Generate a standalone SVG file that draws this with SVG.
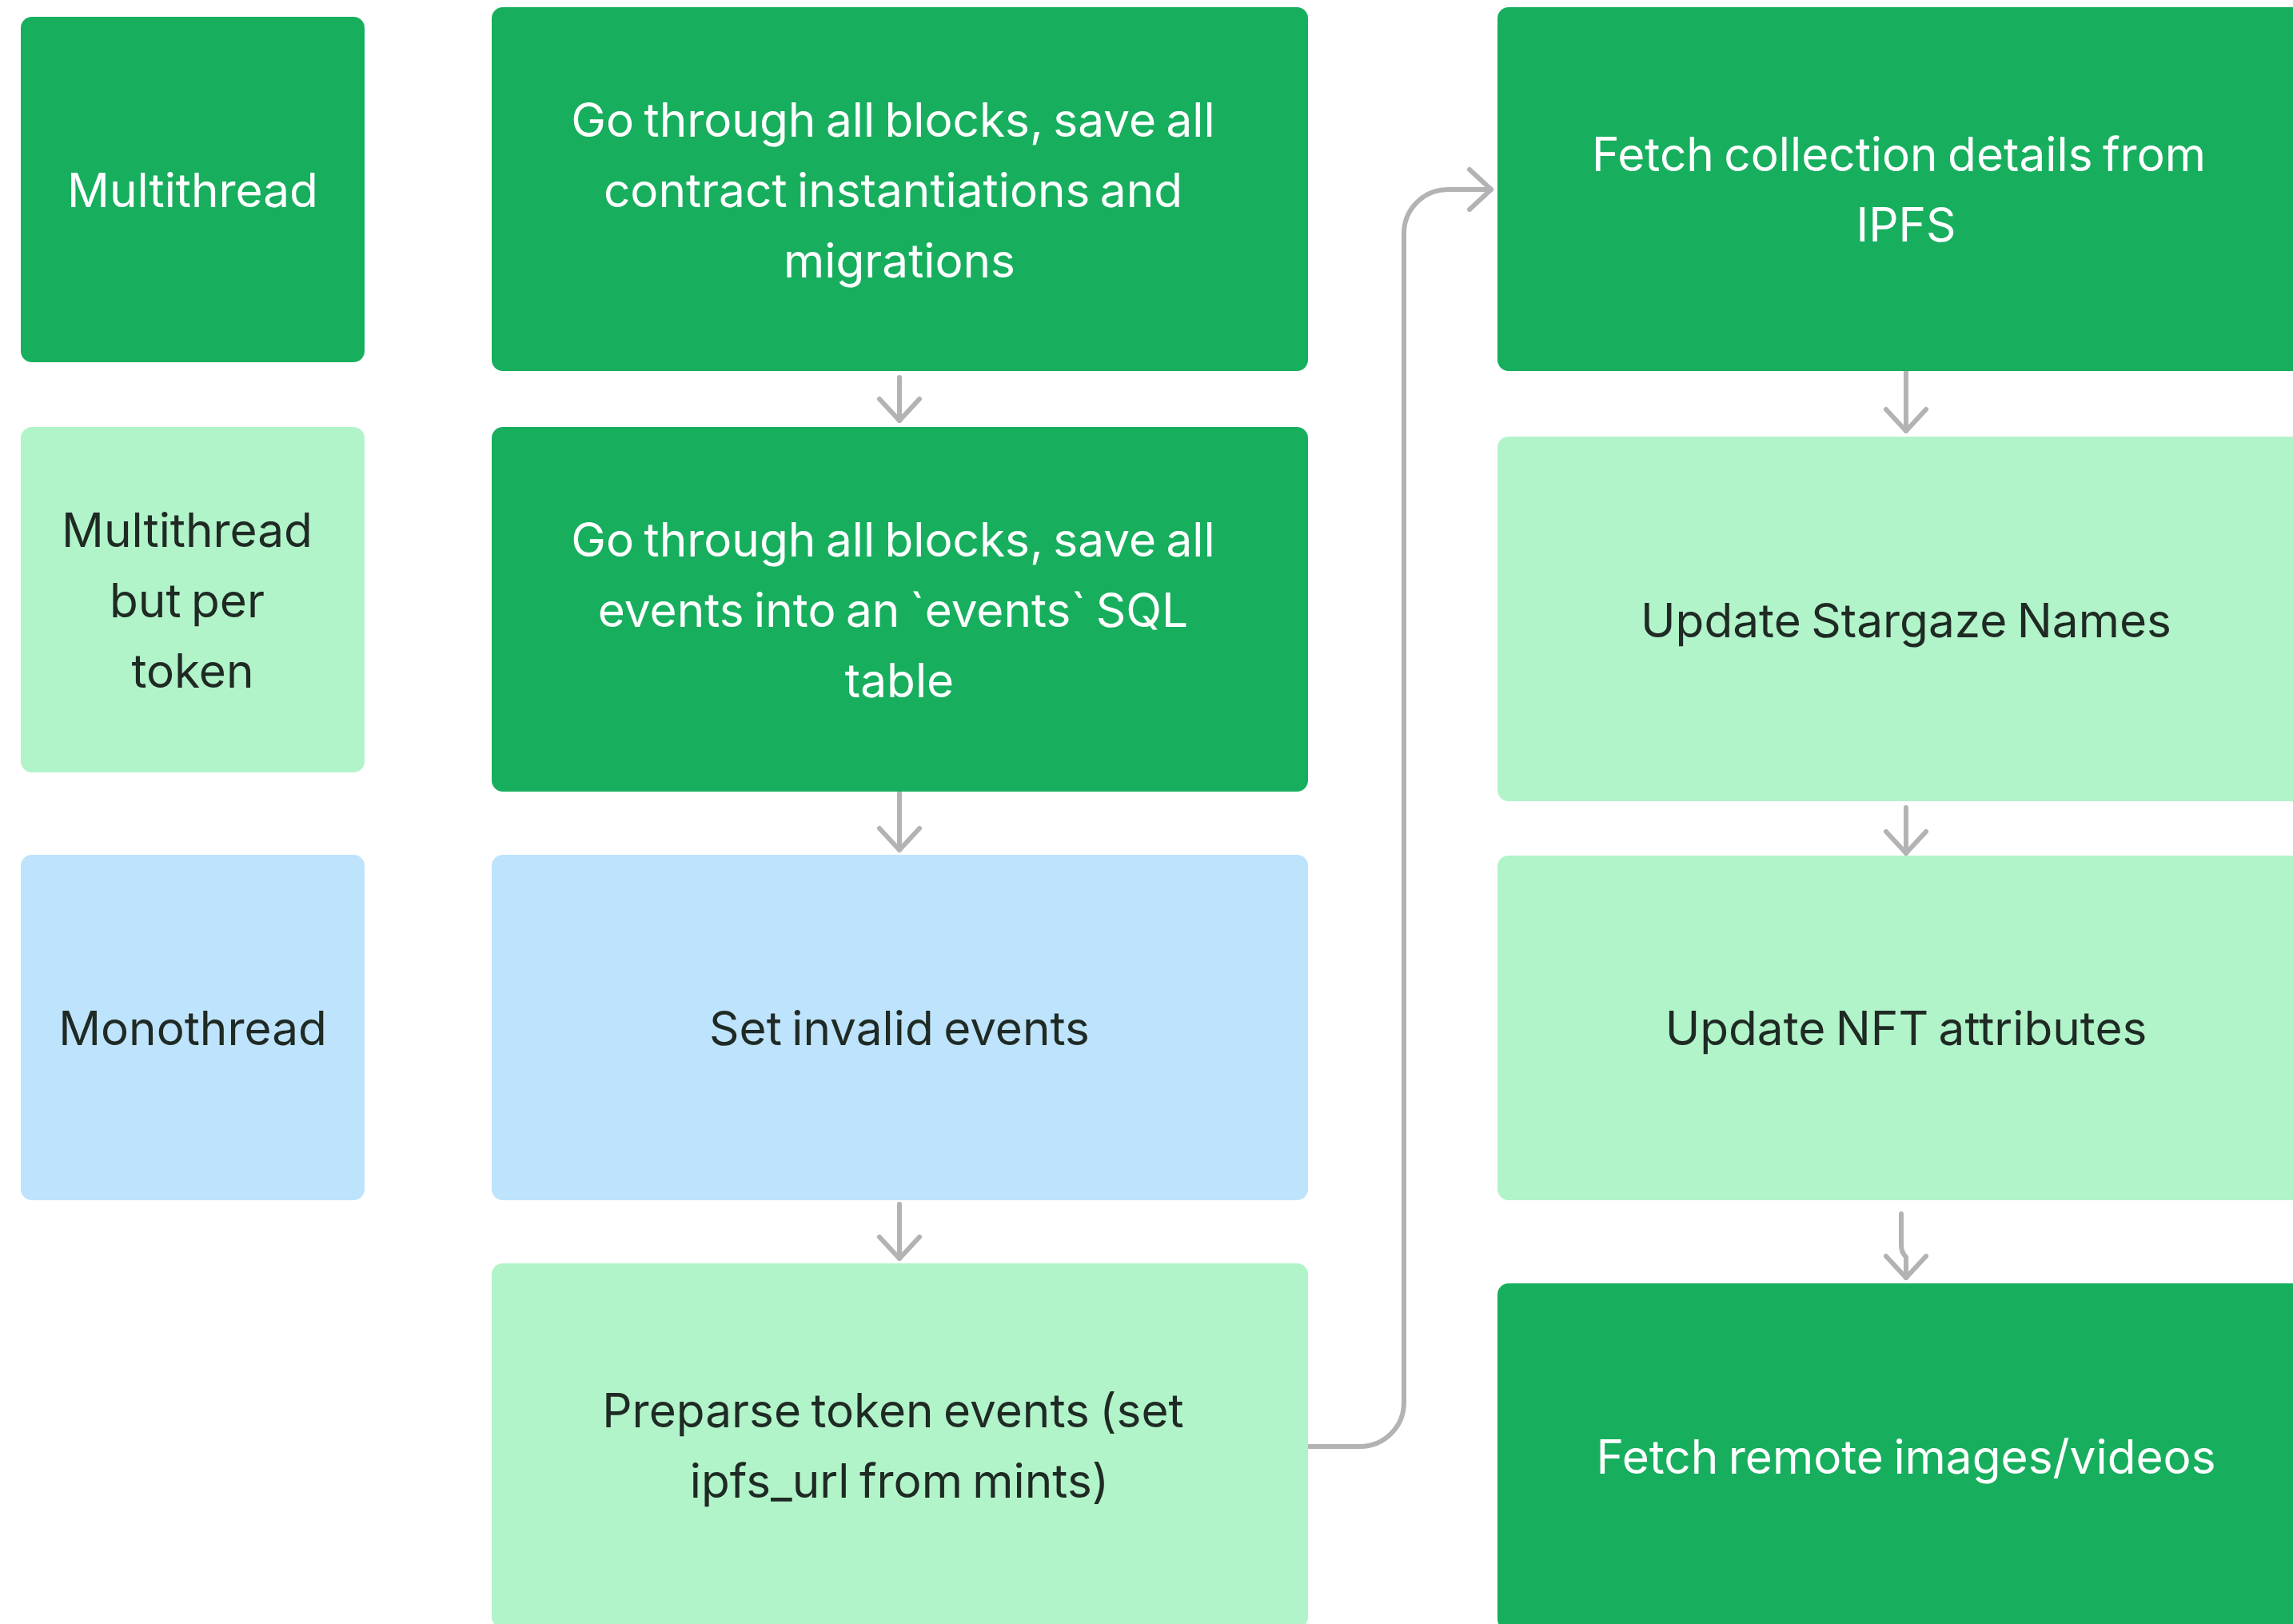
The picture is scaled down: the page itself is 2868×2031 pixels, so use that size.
<svg xmlns="http://www.w3.org/2000/svg" width="2868" height="2031" viewBox="0 0 2868 2031">
<style>
.dk{fill:#17AF5E}
.lg{fill:#B1F4C9}
.bl{fill:#BEE3FC}
text{font-family:Inter,"Noto Sans","Liberation Sans",sans-serif;font-size:58.5px;text-anchor:middle;word-spacing:-4px}
.w{fill:#FFFFFF}
.t{fill:#1F2A24}
.c{fill:none;stroke:#B3B3B3;stroke-width:6;stroke-linecap:round;stroke-linejoin:round}
</style>
<defs>
<marker id="ah" markerUnits="userSpaceOnUse" viewBox="-32 -32 64 64" refX="0" refY="0" markerWidth="64" markerHeight="64" orient="auto">
<path d="M-27 -25 L0 0 L-27 25" fill="none" stroke="#B3B3B3" stroke-width="6" stroke-linecap="round" stroke-linejoin="round"/>
</marker>
</defs>
<rect width="2868" height="2031" fill="#FFFFFF"/>
<g id="connectors">
<path class="c" d="M1125 472 V526" marker-end="url(#ah)"/>
<path class="c" d="M1125 992 V1063" marker-end="url(#ah)"/>
<path class="c" d="M1125 1506 V1574" marker-end="url(#ah)"/>
<path class="c" d="M2384 463 V539" marker-end="url(#ah)"/>
<path class="c" d="M2384 1010 V1067" marker-end="url(#ah)"/>
<path class="c" d="M2378 1518 V1558 Q2378 1566 2384 1572 V1598" marker-end="url(#ah)"/>
<path class="c" d="M1636 1809 H1701 A55 55 0 0 0 1756 1754 V292 A55 55 0 0 1 1811 237 H1865" marker-end="url(#ah)"/>
</g>
<g id="legend-multithread">
<rect class="dk" x="26" y="21" width="430" height="432" rx="14"/>
<text class="w" x="241" y="259">Multithread</text>
</g>
<g id="legend-multithread-per-token">
<rect class="lg" x="26" y="534" width="430" height="432" rx="14"/>
<text class="t" x="234" y="684">Multithread</text>
<text class="t" x="234" y="772">but per</text>
<text class="t" x="241" y="860">token</text>
</g>
<g id="legend-monothread">
<rect class="bl" x="26" y="1069" width="430" height="432" rx="14"/>
<text class="t" x="241" y="1307">Monothread</text>
</g>
<g id="step-contracts">
<rect class="dk" x="615" y="9" width="1021" height="455" rx="14"/>
<text class="w" x="1117" y="171">Go through all blocks, save all</text>
<text class="w" x="1117" y="259">contract instantiations and</text>
<text class="w" x="1125" y="347">migrations</text>
</g>
<g id="step-events">
<rect class="dk" x="615" y="534" width="1021" height="456" rx="14"/>
<text class="w" x="1117" y="696">Go through all blocks, save all</text>
<text class="w" x="1117" y="784">events into an `events` SQL</text>
<text class="w" x="1125" y="872">table</text>
</g>
<g id="step-invalid">
<rect class="bl" x="615" y="1069" width="1021" height="432" rx="14"/>
<text class="t" x="1125" y="1307">Set invalid events</text>
</g>
<g id="step-preparse">
<rect class="lg" x="615" y="1580" width="1021" height="456" rx="14"/>
<text class="t" x="1117" y="1785">Preparse token events (set</text>
<text class="t" x="1125" y="1873">ipfs_url from mints)</text>
</g>
<g id="step-fetch-collection">
<rect class="dk" x="1873" y="9" width="1025" height="455" rx="14"/>
<text class="w" x="2375" y="214">Fetch collection details from</text>
<text class="w" x="2384" y="302">IPFS</text>
</g>
<g id="step-stargaze">
<rect class="lg" x="1873" y="546" width="1025" height="456" rx="14"/>
<text class="t" x="2384" y="797">Update Stargaze Names</text>
</g>
<g id="step-nft-attributes">
<rect class="lg" x="1873" y="1070" width="1025" height="431" rx="14"/>
<text class="t" x="2384" y="1307">Update NFT attributes</text>
</g>
<g id="step-fetch-remote">
<rect class="dk" x="1873" y="1605" width="1025" height="434" rx="14"/>
<text class="w" x="2384" y="1843">Fetch remote images/videos</text>
</g>
</svg>
